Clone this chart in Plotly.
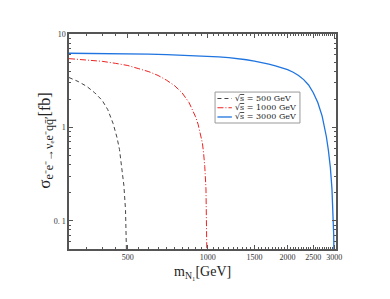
import plotly.graph_objects as go
import numpy as np

# --- data ---
m_500 = [300, 325, 350, 375, 400, 420, 440, 455, 465, 475, 483, 490, 495, 498, 500]
sig_500 = [3.42, 3.1, 2.75, 2.35, 1.95, 1.55, 1.1, 0.78, 0.58, 0.38, 0.24, 0.13, 0.07, 0.04, 0.01]

m_1000 = [300, 350, 400, 450, 500, 550, 600, 650, 700, 750, 800, 850, 880, 900, 920, 940,
          955, 965, 975, 985, 992, 997, 1000]
sig_1000 = [5.45, 5.3, 5.1, 4.85, 4.6, 4.25, 3.95, 3.6, 3.2, 2.8, 2.35, 1.85, 1.5, 1.3, 1.08,
            0.85, 0.68, 0.53, 0.38, 0.22, 0.12, 0.05, 0.01]

m_3000 = [300, 400, 500, 600, 700, 800, 900, 1000, 1100, 1200, 1300, 1400, 1500, 1600, 1700,
          1800, 1900, 2000, 2100, 2200, 2300, 2400, 2500, 2600, 2700, 2750, 2800, 2850, 2900,
          2940, 2970, 2985, 2995, 3000]
sig_3000 = [6.22, 6.2, 6.15, 6.1, 6.03, 5.96, 5.88, 5.8, 5.7, 5.58, 5.45, 5.3, 5.12, 4.95, 4.75,
            4.55, 4.35, 4.15, 3.9, 3.6, 3.25, 2.85, 2.35, 1.85, 1.32, 1.05, 0.8, 0.57, 0.37,
            0.22, 0.12, 0.07, 0.03, 0.01]

labels = ["√<span style='text-decoration:overline'>s</span> = 500 GeV",
          "√<span style='text-decoration:overline'>s</span> = 1000 GeV",
          "√<span style='text-decoration:overline'>s</span> = 3000 GeV"]

x_ticks = [500, 1000, 1500, 2000, 2500, 3000]
x_ticktext = ["500", "1000", "1500", "2000", "2500", "3000"]
y_ticks = [0.1, 1, 10]
y_ticktext = ["0. 1", "1", "10"]

x_title = "m<sub>N₁</sub>[GeV]"
y_title = ("σ<sub><span style='font-size:12px'>e⁻e⁻→νₑe⁻qq̄′</span></sub>"
           "<span style='font-size:16px'>[fb]</span>")

x_minor = [v for v in range(300, 3001, 50) if v not in x_ticks]
y_minor = [0.05, 0.06, 0.07, 0.08, 0.09] + [k / 10 for k in range(2, 10)] + list(range(2, 10))

FONT = "Liberation Serif"
colors = ["#444444", "#ee2222", "#1f74e0"]
dashes = ["4px,3px", "6px,2px,1px,2px", "solid"]
widths = [1, 1, 1.3]

fig = go.Figure()
for mx, sy, name, c, d, w in zip([m_500, m_1000, m_3000], [sig_500, sig_1000, sig_3000],
                                 labels, colors, dashes, widths):
    fig.add_trace(go.Scatter(x=mx, y=sy, mode="lines", name=name, showlegend=False,
                             line=dict(color=c, width=w, dash=d)))

axis_common = dict(
    showgrid=False, zeroline=False, showline=True, linecolor="#555555", linewidth=1.5,
    mirror="ticks", ticks="inside", tickcolor="#555555", ticklen=4, tickwidth=1,
    tickfont=dict(family=FONT, size=8, color="#333333"),
)

fig.update_xaxes(
    type="log", range=[np.log10(300), np.log10(3045)],
    tickmode="array", tickvals=x_ticks, ticktext=x_ticktext,
    minor=dict(tickmode="array", tickvals=x_minor, ticks="inside", ticklen=2,
               tickcolor="#555555", tickwidth=1),
    **axis_common,
)
fig.update_yaxes(
    type="log", range=[np.log10(0.05), 1],
    tickmode="array", tickvals=y_ticks, ticktext=y_ticktext,
    minor=dict(tickmode="array", tickvals=y_minor, ticks="inside", ticklen=2,
               tickcolor="#555555", tickwidth=1),
    **axis_common,
)

# axis titles
fig.add_annotation(xref="paper", yref="paper", x=0.5, y=-0.064, xanchor="center", yanchor="top",
                   text=x_title, showarrow=False, borderpad=0,
                   font=dict(family=FONT, size=14, color="#222222"))
fig.add_annotation(xref="paper", yref="paper", x=-0.085, y=0.505, xanchor="center", yanchor="middle",
                   text=y_title, textangle=-90, showarrow=False,
                   font=dict(family=FONT, size=17, color="#222222"))

# manual compact legend (paper coordinates)
lg_x0, lg_x1, lg_y0, lg_y1 = 0.547, 0.865, 0.586, 0.730
row_y = [0.700, 0.657, 0.614]
fig.add_shape(type="rect", xref="paper", yref="paper", x0=lg_x0, x1=lg_x1, y0=lg_y0, y1=lg_y1,
              line=dict(color="#999999", width=1), fillcolor="white", layer="above")
for ry, name, c, d, w in zip(row_y, labels, colors, dashes, widths):
    fig.add_shape(type="line", xref="paper", yref="paper", x0=0.556, x1=0.610, y0=ry, y1=ry,
                  line=dict(color=c, width=w, dash=d), layer="above")
    fig.add_annotation(xref="paper", yref="paper", x=0.616, y=ry, xanchor="left", yanchor="middle",
                       text=name, showarrow=False,
                       font=dict(family="DejaVu Serif", size=8, color="#222222"))

fig.update_layout(
    width=390, height=299,
    margin=dict(l=61, r=62, t=26, b=58),
    paper_bgcolor="white", plot_bgcolor="white",
    showlegend=False,
)

fig.write_html("out.html")
